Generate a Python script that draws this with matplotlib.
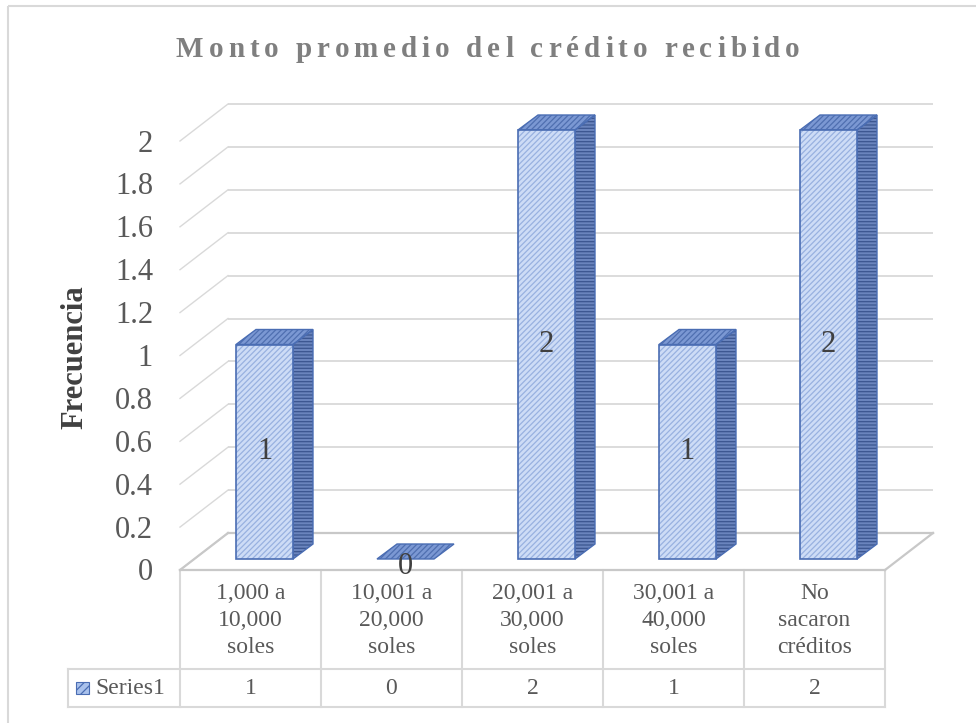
import numpy as np
import matplotlib
matplotlib.use("Agg")
import matplotlib.pyplot as plt
from matplotlib.patches import Rectangle, Polygon

# ---------------- data ----------------
categories = ["1,000 a\n10,000\nsoles", "10,001 a\n20,000\nsoles",
              "20,001 a\n30,000\nsoles", "30,001 a\n40,000\nsoles",
              "No\nsacaron\ncréditos"]
values = [1, 0, 2, 1, 2]
series_name = "Series1"
yticks = [0, 0.2, 0.4, 0.6, 0.8, 1.0, 1.2, 1.4, 1.6, 1.8, 2.0]
ytick_labels = ["0", "0.2", "0.4", "0.6", "0.8", "1", "1.2", "1.4", "1.6", "1.8", "2"]
title = "Monto promedio del crédito recibido"
ylabel = "Frecuencia"

plt.rcParams["font.family"] = ["Liberation Serif", "DejaVu Serif"]
plt.rcParams["hatch.linewidth"] = 0.9

W, H = 976, 723
fig = plt.figure(figsize=(W / 100, H / 100), dpi=100)
fig.patch.set_facecolor("white")

# pixel canvas for frame, title and data table
cv = fig.add_axes([0, 0, 1, 1])
cv.set_xlim(0, W)
cv.set_ylim(H, 0)
cv.axis("off")

# bar plane axes (category index / value)
CW = 141.0     # px per category
VU = 214.5     # px per value unit
n = len(values)
ax_left = 194
base_px = 559
ax = fig.add_axes([ax_left / W, (H - base_px) / H, n * CW / W, 2 * VU / H])
ax.set_xlim(-0.5, n - 0.5)
ax.set_ylim(0, 2)
ax.axis("off")


def off(dx_px, dy_px):
    return dx_px / CW, dy_px / VU


bx, by = off(34, 26)      # back wall offset
fx, fy = off(-14, -11)    # front floor edge offset
dx, dy = off(20, 15)      # bar depth
bw = 57 / CW              # bar width

grid_c = "#d9d9d9"
floor_c = "#c8c8c8"
x0, x1 = -0.5, n - 0.5

# back wall grid + left wall diagonals
for v in yticks:
    ax.plot([x0 + bx, x1 + bx], [v + by, v + by], color=grid_c, lw=1.3,
            clip_on=False, zorder=1, solid_capstyle="butt")
    ax.plot([x0 + bx, x0 + fx], [v + by, v + fy], color=grid_c, lw=1.0,
            clip_on=False, zorder=1)
# floor
ax.plot([x0 + bx, x1 + bx], [by, by], color=floor_c, lw=1.6, clip_on=False, zorder=1)
ax.plot([x1 + bx, x1 + fx], [by, fy], color=floor_c, lw=1.6, clip_on=False, zorder=1)
ax.plot([x0 + bx, x0 + fx], [by, fy], color=floor_c, lw=1.6, clip_on=False, zorder=1)
ax.plot([x0 + fx, x1 + fx], [fy, fy], color=floor_c, lw=1.6, clip_on=False, zorder=1)

# y tick labels (front edge)
for v, lab in zip(yticks, ytick_labels):
    ax.text(x0 + (153 - ax_left) / CW, v + fy - 3 / VU, lab, ha="right", va="center",
            fontsize=22, color="#595959")

# bars
edge_c = "#4a6db3"
for i, v in enumerate(values):
    l, r = i - bw / 2, i + bw / 2
    # side face
    side = [(r, 0), (r, v), (r + dx, v + dy), (r + dx, dy)]
    if v > 0:
        ax.add_patch(Polygon(side, closed=True, facecolor="#6a84bd", edgecolor="#3b5690",
                             hatch="-----", lw=0, clip_on=False, zorder=3))
        ax.add_patch(Polygon(side, closed=True, fill=False, edgecolor=edge_c,
                             lw=1.0, clip_on=False, zorder=3.1))
    # top face
    top = [(l, v), (r, v), (r + dx, v + dy), (l + dx, v + dy)]
    ax.add_patch(Polygon(top, closed=True, facecolor="#7b98d3", edgecolor="#4f6fb0",
                         hatch="//////", lw=0, clip_on=False, zorder=3))
    ax.add_patch(Polygon(top, closed=True, fill=False, edgecolor=edge_c,
                         lw=1.0, clip_on=False, zorder=3.1))
    # front face
    if v > 0:
        ax.add_patch(Rectangle((l, 0), bw, v, facecolor="#cddcf6", edgecolor="#98b1e0",
                               hatch="//////", lw=0, clip_on=False, zorder=4))
        ax.add_patch(Rectangle((l, 0), bw, v, fill=False, edgecolor=edge_c,
                               lw=1.2, clip_on=False, zorder=4.1))
    # data label
    ly = v / 2 if v > 0 else v - 8 / VU
    ax.text(i, ly, f"{v:g}", ha="center", va="center", fontsize=22,
            color="#404040", zorder=5, clip_on=False)

# ---------------- canvas: frame, title, ylabel, table ----------------
cv.add_patch(Rectangle((8, 6), W + 20, H + 20, fill=False, edgecolor="#d9d9d9", lw=1.5))

# title with letter spacing
tkw = dict(fontsize=21, fontweight="bold", color="#7f7f7f")
renderer = fig.canvas.get_renderer()


def text_w(s):
    t = cv.text(0, 0, s, **tkw)
    w = t.get_window_extent(renderer).width
    t.remove()
    return w


ref_w = text_w("|")
natural = text_w(title)
target_left, target_right = 176, 800
gap = (target_right - target_left - natural) / (len(title) - 1)
for k, ch in enumerate(title):
    if ch == " ":
        continue
    pos = text_w(title[:k] + "|") - ref_w if k > 0 else 0
    cv.text(target_left + pos + k * gap, 57, ch, ha="left", va="baseline", **tkw)

cv.text(75, 357, ylabel, rotation=90, ha="center", va="center", fontsize=22,
        fontweight="bold", color="#404040")

# data table
tab_left = 180
row1_top, row1_bot, row2_bot = 570, 669, 707
tcol = "#d9d9d9"
for k in range(n + 1):
    xx = tab_left + k * CW
    cv.plot([xx, xx], [row1_top, row2_bot], color=tcol, lw=1.5)
cv.plot([68, 68], [row1_bot, row2_bot], color=tcol, lw=1.5)
cv.plot([68, tab_left + n * CW], [row1_bot, row1_bot], color=tcol, lw=1.5)
cv.plot([68, tab_left + n * CW], [row2_bot, row2_bot], color=tcol, lw=1.5)

txt_c = "#595959"
for i, (cat, v) in enumerate(zip(categories, values)):
    cx = tab_left + (i + 0.5) * CW
    cv.text(cx, (row1_top + row1_bot) / 2 + 1, cat, ha="center", va="center",
            fontsize=17, color=txt_c, linespacing=1.38)
    cv.text(cx, (row1_bot + row2_bot) / 2, f"{v:g}", ha="center", va="center",
            fontsize=17, color=txt_c)

cv.add_patch(Rectangle((76, 682), 13, 12, facecolor="#a9c1ec", edgecolor="#4a6db3",
                       hatch="////", lw=0.8))
cv.text(95, (row1_bot + row2_bot) / 2, series_name, ha="left", va="center",
        fontsize=17, color=txt_c)

fig.savefig("out.png", dpi=100)
